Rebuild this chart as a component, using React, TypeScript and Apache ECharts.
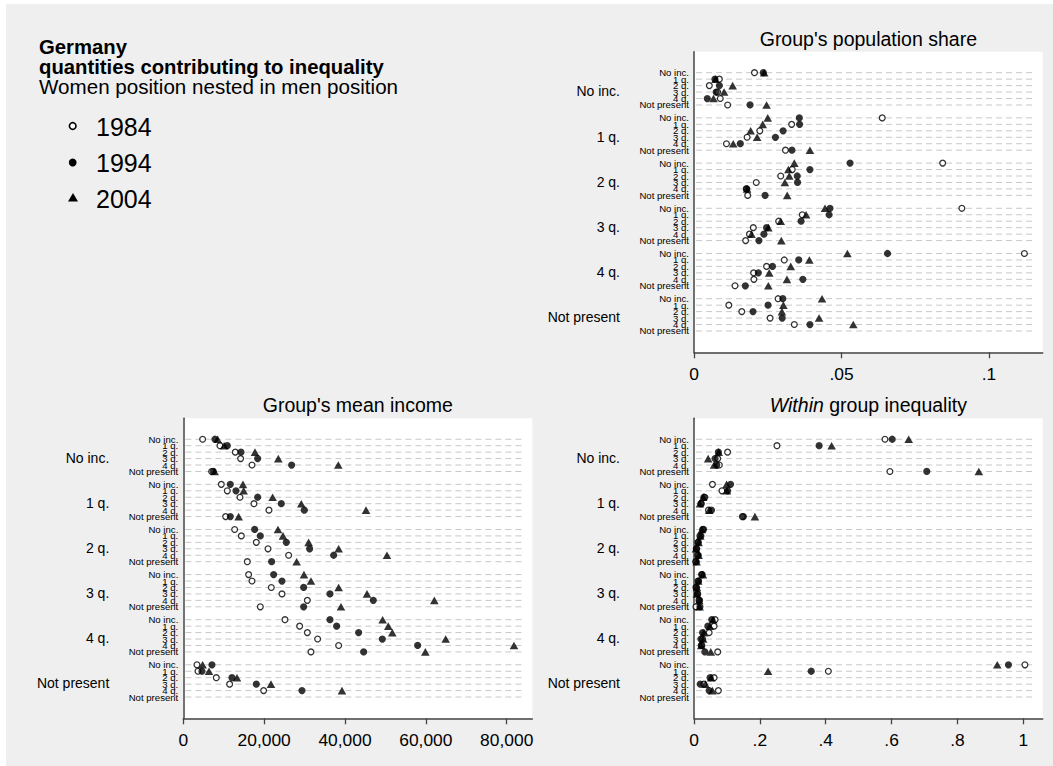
import { useEffect, useRef } from "react";
import * as echarts from "echarts";

const FONT = "'Liberation Sans', Arial, Helvetica, sans-serif";

// Men's position (outer) and women's position (inner, nested) categories
const menGroups = ["No inc.", "1 q.", "2 q.", "3 q.", "4 q.", "Not present"];
const womenGroups = ["No inc.", "1 q.", "2 q.", "3 q.", "4 q.", "Not present"];
const years = ["1984", "1994", "2004"];

const shareTicks = [0, 0.05, 0.1];
const incomeTicks = [0, 20000, 40000, 60000, 80000];
const inequalityTicks = [0, 0.2, 0.4, 0.6, 0.8, 1];

// Group's population share (36 rows: men group x women group)
const share1984 = [
  0.0205, 0.0086, 0.0052, 0.008, 0.0089, 0.0114,
  0.0638, 0.0331, 0.0223, 0.018, 0.011, 0.031,
  0.0843, 0.0333, 0.0294, 0.0211, 0.0177, 0.0182,
  0.0908, 0.0367, 0.0287, 0.0201, 0.0188, 0.0175,
  0.112, 0.0306, 0.0246, 0.0202, 0.0203, 0.0139,
  0.0285, 0.0118, 0.0162, 0.0258, 0.034, null,
];
const share1994 = [
  0.0235, 0.0071, 0.0086, 0.0075, 0.0045, 0.019,
  0.0357, 0.0358, 0.0302, 0.0276, 0.0157, 0.0332,
  0.0529, 0.0393, 0.035, 0.0351, 0.0179, 0.0241,
  0.0461, 0.0458, 0.0363, 0.0246, 0.0237, 0.022,
  0.0656, 0.0355, 0.0266, 0.0218, 0.0369, 0.0174,
  0.0301, 0.0251, 0.02, 0.0299, 0.0393, null,
];
const share2004 = [
  0.0238, 0.0073, 0.0131, 0.0102, 0.0066, 0.0246,
  0.025, 0.0233, 0.0192, 0.0214, 0.0133, 0.0393,
  0.034, 0.032, 0.0323, 0.0308, 0.018, 0.0316,
  0.0444, 0.038, 0.0294, 0.0252, 0.0195, 0.0296,
  0.052, 0.0391, 0.0328, 0.0255, 0.0315, 0.0252,
  0.0434, 0.0303, 0.0298, 0.0424, 0.054, null,
];

// Group's mean income
const income1984 = [
  4780, 9070, 12860, 14180, 16990, 7010,
  9400, 10880, 14020, 17480, 21190, 10470,
  12700, 14350, 18060, 20950, 26060, 15830,
  16160, 16990, 21770, 24410, 30680, 19050,
  25150, 28780, 30680, 33230, 38430, 31580,
  3380, 3630, 8160, 11460, 19870, null,
];
const income1994 = [
  7830, 10880, 14270, 18390, 26800, 7400,
  11630, 13030, 18390, 24240, 29930, 11630,
  17650, 19050, 25480, 31250, 37190, 21850,
  22350, 24410, 29770, 36280, 47000, 29770,
  36280, 37930, 43370, 49230, 57970, 44610,
  7090, 4620, 12040, 18060, 29360, null,
];
const income2004 = [
  8490, 10100, 17730, 23500, 38340, 7750,
  14760, 14930, 22100, 29190, 45190, 13690,
  23420, 24660, 31000, 38430, 50380, 28040,
  29850, 31580, 38430, 45440, 62090, 39000,
  49310, 50710, 51700, 64900, 81800, 59870,
  4780, 6350, 13280, 21690, 39250, null,
];

// Within group inequality
const inequality1984 = [
  0.58, 0.252, 0.102, 0.072, 0.077, 0.595,
  0.056, 0.085, 0.033, 0.022, 0.044, 0.147,
  0.026, 0.018, 0.012, 0.007, 0.011, 0.005,
  0.025, 0.012, 0.008, 0.011, 0.015, 0.006,
  0.064, 0.061, 0.046, 0.026, 0.024, 0.072,
  1.005, 0.408, 0.061, 0.03, 0.074, null,
];
const inequality1994 = [
  0.602, 0.38, 0.074, 0.064, 0.069, 0.707,
  0.111, 0.102, 0.03, 0.021, 0.053, 0.15,
  0.029, 0.021, 0.013, 0.008, 0.013, 0.007,
  0.023, 0.014, 0.006, 0.01, 0.017, 0.018,
  0.054, 0.042, 0.026, 0.021, 0.022, 0.033,
  0.955, 0.356, 0.049, 0.019, 0.046, null,
];
const inequality2004 = [
  0.652, 0.418, 0.075, 0.043, 0.061, 0.865,
  0.099, 0.1, 0.028, 0.018, 0.046, 0.185,
  0.024, 0.019, 0.014, 0.006, 0.014, 0.008,
  0.027, 0.013, 0.009, 0.009, 0.016, 0.017,
  0.058, 0.048, 0.03, 0.028, 0.022, 0.051,
  0.921, 0.225, 0.052, 0.035, 0.056, null,
];

// Each men group takes 6 rows plus one empty row as a gap
const GROUP_STEP = 7;
const rowPositions = menGroups.flatMap((_, g) =>
  womenGroups.map((_, i) => g * GROUP_STEP + i)
);
// row labels are split over two label axes so that neighbours never collide
const evenRows = rowPositions.filter((_, r) => r % 2 === 0);
const oddRows = rowPositions.filter((_, r) => r % 2 === 1);
const groupPositions = menGroups.map((_, g) => g * GROUP_STEP + 2.9);
const Y_MIN = -3.25;
const Y_MAX = 43.3;

const decimalLabel = (v: number) =>
  v === 0 ? "0" : String(v).replace(/^0\./, ".");
const thousandsLabel = (v: number) =>
  String(v).replace(/\B(?=(\d{3})+(?!\d))/g, ",");

const AXIS_COLOR = "#444";

const panels = [
  {
    series: [share1984, share1994, share2004],
    ticks: shareTicks,
    max: 0.1182,
    format: decimalLabel,
    grid: { left: 694, top: 51.7, width: 348.7, height: 300.6 },
  },
  {
    series: [income1984, income1994, income2004],
    ticks: incomeTicks,
    max: 86330,
    format: thousandsLabel,
    grid: { left: 183.3, top: 418.3, width: 349, height: 300 },
  },
  {
    series: [inequality1984, inequality1994, inequality2004],
    ticks: inequalityTicks,
    max: 1.059,
    format: decimalLabel,
    grid: { left: 694, top: 418.3, width: 348.7, height: 300 },
  },
];

const markerStyles = [
  {
    symbol: "circle",
    symbolSize: 5.8,
    itemStyle: { color: "#fff", borderColor: "#000", borderWidth: 1.3 },
  },
  { symbol: "circle", symbolSize: 7.2, itemStyle: { color: "#000" } },
  { symbol: "triangle", symbolSize: [8.6, 7.6], itemStyle: { color: "#000" } },
];

function rowLabelAxis(k: number, values: number[], withLine: boolean) {
  return {
    type: "value",
    gridIndex: k,
    position: "left",
    min: Y_MIN,
    max: Y_MAX,
    inverse: true,
    axisLine: {
      show: withLine,
      onZero: false,
      lineStyle: { color: AXIS_COLOR, width: 1.5 },
    },
    axisTick: { show: false },
    splitLine: { show: false },
    axisLabel: {
      customValues: values,
      formatter: (v: number) => womenGroups[Math.round(v) % GROUP_STEP],
      fontSize: 9.6,
      fontFamily: FONT,
      color: "#000",
      margin: 5,
      showMinLabel: true,
      showMaxLabel: true,
      hideOverlap: false,
    },
  };
}

function buildOption() {
  const grid = panels.map((p) => ({
    ...p.grid,
    show: true,
    backgroundColor: "#ffffff",
    borderWidth: 0,
    containLabel: false,
  }));

  const xAxis = panels.map((p, k) => ({
    type: "value",
    gridIndex: k,
    min: 0,
    max: p.max,
    axisLine: {
      show: true,
      onZero: false,
      lineStyle: { color: AXIS_COLOR, width: 1.5 },
    },
    axisTick: {
      show: true,
      customValues: p.ticks,
      length: 6,
      lineStyle: { color: AXIS_COLOR, width: 1.3 },
    },
    axisLabel: {
      customValues: p.ticks,
      formatter: (v: number) => p.format(v),
      fontSize: 17.4,
      fontFamily: FONT,
      color: "#000",
      margin: 13,
      showMinLabel: true,
      showMaxLabel: true,
    },
    splitLine: { show: false },
  }));

  const yAxis: any[] = [];
  panels.forEach((_, k) => {
    yAxis.push(rowLabelAxis(k, evenRows, true));
    yAxis.push(rowLabelAxis(k, oddRows, false));
    yAxis.push({
      type: "value",
      gridIndex: k,
      position: "left",
      min: Y_MIN,
      max: Y_MAX,
      inverse: true,
      axisLine: { show: false },
      axisTick: { show: false },
      splitLine: { show: false },
      axisLabel: {
        customValues: groupPositions,
        formatter: (v: number) => menGroups[Math.floor(v / GROUP_STEP)],
        fontSize: 14,
        fontFamily: FONT,
        color: "#000",
        margin: 74,
        showMinLabel: true,
        showMaxLabel: true,
      },
    });
  });

  const series: any[] = [];
  panels.forEach((p, k) => {
    const xLo = p.max * 0.006;
    const xHi = p.max * 0.975;
    // dashed guide line on every row
    series.push({
      type: "custom",
      xAxisIndex: k,
      yAxisIndex: k * 3,
      silent: true,
      z: 1,
      data: rowPositions.map((y) => [0, y]),
      encode: { x: 0, y: 1 },
      renderItem: (_params: any, api: any) => {
        const y = api.value(1);
        const a = api.coord([xLo, y]);
        const b = api.coord([xHi, y]);
        return {
          type: "line",
          shape: { x1: a[0], y1: a[1], x2: b[0], y2: b[1] },
          style: { stroke: "#c8c8c8", lineWidth: 1, lineDash: [6, 4] },
        };
      },
    });
    p.series.forEach((values, s) => {
      const data = values
        .map((v, r) => (v == null ? null : [v, rowPositions[r]]))
        .filter((d) => d !== null);
      series.push({
        type: "scatter",
        name: years[s],
        xAxisIndex: k,
        yAxisIndex: k * 3,
        silent: true,
        z: 2 + s,
        data,
        ...markerStyles[s],
      });
    });
  });

  const titleStyle = {
    fontSize: 19.5,
    fontFamily: FONT,
    fill: "#000",
    align: "center",
    verticalAlign: "middle",
  };

  const centerOf = (g: { left: number; width: number }) => g.left + g.width / 2;

  const graphic: any[] = [
    // white page margin on the left and top edges
    { type: "rect", shape: { x: 0, y: 0, width: 6, height: 766 }, style: { fill: "#fff" }, silent: true },
    { type: "rect", shape: { x: 0, y: 0, width: 1053, height: 4 }, style: { fill: "#fff" }, silent: true },
    {
      type: "text",
      x: centerOf(panels[0].grid),
      y: 38.5,
      style: { ...titleStyle, text: "Group's population share" },
    },
    {
      type: "text",
      x: centerOf(panels[1].grid),
      y: 405,
      style: { ...titleStyle, text: "Group's mean income" },
    },
    {
      type: "text",
      x: centerOf(panels[2].grid),
      y: 405,
      style: {
        ...titleStyle,
        text: "{i|Within} group inequality",
        rich: {
          i: { fontStyle: "italic", fontSize: 19.5, fontFamily: FONT, fill: "#000" },
        },
      },
    },
    {
      type: "text",
      x: 39,
      y: 46.5,
      style: { text: "Germany", fontSize: 20.3, fontWeight: "bold", fontFamily: FONT, fill: "#000", verticalAlign: "middle" },
    },
    {
      type: "text",
      x: 39,
      y: 66.5,
      style: { text: "quantities contributing to inequality", fontSize: 20.3, fontWeight: "bold", fontFamily: FONT, fill: "#000", verticalAlign: "middle" },
    },
    {
      type: "text",
      x: 39,
      y: 86,
      style: { text: "Women position nested in men position", fontSize: 20.6, fontFamily: FONT, fill: "#000", verticalAlign: "middle" },
    },
    // legend keys
    { type: "circle", shape: { cx: 72.7, cy: 126, r: 3.3 }, style: { fill: "#fff", stroke: "#000", lineWidth: 1.6 } },
    { type: "circle", shape: { cx: 72.7, cy: 162.5, r: 3.9 }, style: { fill: "#000" } },
    {
      type: "polygon",
      shape: { points: [[68, 201.5], [78, 201.5], [73, 193]] },
      style: { fill: "#000" },
    },
  ];
  const legendY = [127, 163, 199];
  years.forEach((yr, i) => {
    graphic.push({
      type: "text",
      x: 96,
      y: legendY[i],
      style: { text: yr, fontSize: 25, fontFamily: FONT, fill: "#000", verticalAlign: "middle" },
    });
  });

  return {
    animation: false,
    backgroundColor: "#efefef",
    textStyle: { fontFamily: FONT },
    grid,
    xAxis,
    yAxis,
    series,
    graphic,
  };
}

export default function App() {
  const ref = useRef<HTMLDivElement>(null);
  useEffect(() => {
    if (!ref.current) return;
    const chart = echarts.init(ref.current, undefined, { renderer: "svg" });
    chart.setOption(buildOption() as any);
    return () => chart.dispose();
  }, []);
  return (
    <div
      ref={ref}
      style={{ position: "absolute", left: 0, top: 0, width: 1053, height: 766 }}
    />
  );
}
